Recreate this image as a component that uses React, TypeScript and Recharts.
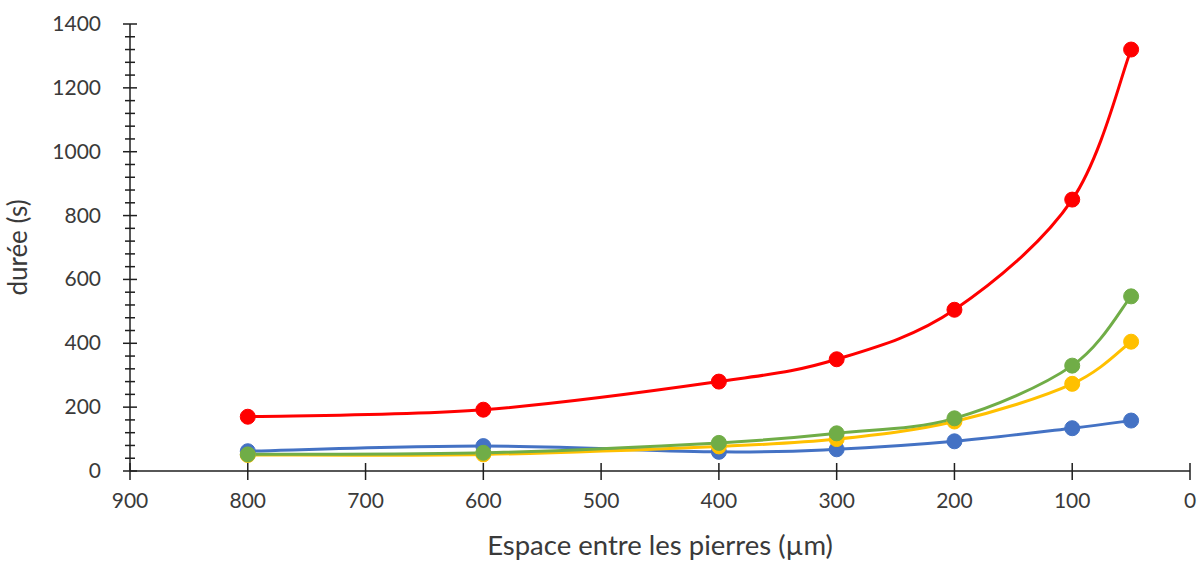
import React from 'react';
import { LineChart, Line, XAxis, YAxis } from 'recharts';

// Spacing between stones (µm)
const spacing = [800, 600, 400, 300, 200, 100, 50];
// Duration series (s)
const redSeries = [170, 192, 280, 350, 505, 850, 1320];
const greenSeries = [52, 57, 88, 118, 165, 330, 547];
const yellowSeries = [50, 52, 77, 100, 155, 273, 405];
const blueSeries = [62, 78, 60, 68, 93, 134, 158];

const xTicks = [0, 100, 200, 300, 400, 500, 600, 700, 800, 900];
const yMajorTicks = [0, 200, 400, 600, 800, 1000, 1200, 1400];
const yAllTicks = [0, 40, 80, 120, 160, 200, 240, 280, 320, 360, 400, 440, 480, 520, 560, 600, 640, 680, 720, 760, 800, 840, 880, 920, 960, 1000, 1040, 1080, 1120, 1160, 1200, 1240, 1280, 1320, 1360, 1400];

const xTitle = 'Espace entre les pierres (µm)';
const yTitle = 'durée (s)';

const data = spacing.map((x, i) => ({
  x,
  blue: blueSeries[i],
  red: redSeries[i],
  yellow: yellowSeries[i],
  green: greenSeries[i],
}));

const FONT = 'Lato, "Liberation Sans", sans-serif';
const TEXT = '#3a3a3a';
const AXIS = '#1f1f1f';

const W = 1201;
const H = 562;
const M = { top: 24, right: 11, bottom: 31, left: 0 };
const Y_AXIS_W = 130;
const X_AXIS_H = 60;
const PLOT_LEFT = M.left + Y_AXIS_W;
const PLOT_BOTTOM = H - M.bottom - X_AXIS_H;

// Catmull-Rom style smoothing (like spreadsheet "smoothed line")
const smoothCurve = (context: any) => {
  let pts: number[][] = [];
  return {
    areaStart() {},
    areaEnd() {},
    lineStart() {
      pts = [];
    },
    point(x: number, y: number) {
      pts.push([+x, +y]);
    },
    lineEnd() {
      const n = pts.length;
      if (!n) return;
      context.moveTo(pts[0][0], pts[0][1]);
      for (let i = 0; i < n - 1; i++) {
        const p0 = pts[Math.max(i - 1, 0)];
        const p1 = pts[i];
        const p2 = pts[i + 1];
        const p3 = pts[Math.min(i + 2, n - 1)];
        context.bezierCurveTo(
          p1[0] + (p2[0] - p0[0]) / 6,
          p1[1] + (p2[1] - p0[1]) / 6,
          p2[0] - (p3[0] - p1[0]) / 6,
          p2[1] - (p3[1] - p1[1]) / 6,
          p2[0],
          p2[1]
        );
      }
    },
  };
};

const YTick = (props: any) => {
  const { y, payload } = props;
  const v = payload.value;
  const major = yMajorTicks.includes(v);
  return (
    <g>
      <line
        x1={PLOT_LEFT - (major ? 7 : 5)}
        x2={PLOT_LEFT + (major ? 7 : 5)}
        y1={y}
        y2={y}
        stroke={AXIS}
        strokeWidth={1.5}
      />
      {major && (
        <text x={PLOT_LEFT - 29} y={y} dy={7} textAnchor="end" fontFamily={FONT} fontSize={21} fill={TEXT}>
          {v}
        </text>
      )}
    </g>
  );
};

const XTick = (props: any) => {
  const { x, payload } = props;
  return (
    <g>
      <line x1={x} x2={x} y1={PLOT_BOTTOM - 8} y2={PLOT_BOTTOM + 9} stroke={AXIS} strokeWidth={1.5} />
      <text x={x} y={PLOT_BOTTOM + 37} textAnchor="middle" fontFamily={FONT} fontSize={21} fill={TEXT}>
        {payload.value}
      </text>
    </g>
  );
};

const XTitle = (props: any) => {
  const vb = props.viewBox;
  return (
    <text x={vb.x + vb.width / 2} y={H - 7} textAnchor="middle" fontFamily={FONT} fontSize={27.5} fill={TEXT}>
      {xTitle}
    </text>
  );
};

const YTitle = (props: any) => {
  const vb = props.viewBox;
  const cy = vb.y + vb.height / 2;
  return (
    <text
      x={27}
      y={cy}
      textAnchor="middle"
      transform={`rotate(-90 27 ${cy})`}
      fontFamily={FONT}
      fontSize={26}
      fill={TEXT}
    >
      {yTitle}
    </text>
  );
};

const series = [
  { key: 'blue', color: '#4472C4' },
  { key: 'red', color: '#FF0000' },
  { key: 'yellow', color: '#FFC000' },
  { key: 'green', color: '#70AD47' },
];

export default function App() {
  return (
    <div style={{ position: 'absolute', left: 0, top: 0, width: W, height: H, background: '#fff' }}>
      <LineChart width={W} height={H} data={data} margin={M}>
        <XAxis
          dataKey="x"
          type="number"
          domain={[0, 900]}
          ticks={xTicks}
          reversed
          height={X_AXIS_H}
          axisLine={{ stroke: AXIS, strokeWidth: 1.5 }}
          tickLine={false}
          tick={<XTick />}
          interval={0}
          label={<XTitle />}
        />
        <YAxis
          type="number"
          domain={[0, 1400]}
          ticks={yAllTicks}
          width={Y_AXIS_W}
          axisLine={{ stroke: AXIS, strokeWidth: 1.5 }}
          tickLine={false}
          tick={<YTick />}
          interval={0}
          label={<YTitle />}
        />
        {series.map((s) => (
          <Line
            key={s.key}
            dataKey={s.key}
            type={smoothCurve as any}
            stroke={s.color}
            strokeWidth={3}
            dot={{ r: 7.5, fill: s.color, stroke: s.color, strokeWidth: 1 }}
            activeDot={false}
            isAnimationActive={false}
          />
        ))}
      </LineChart>
    </div>
  );
}
